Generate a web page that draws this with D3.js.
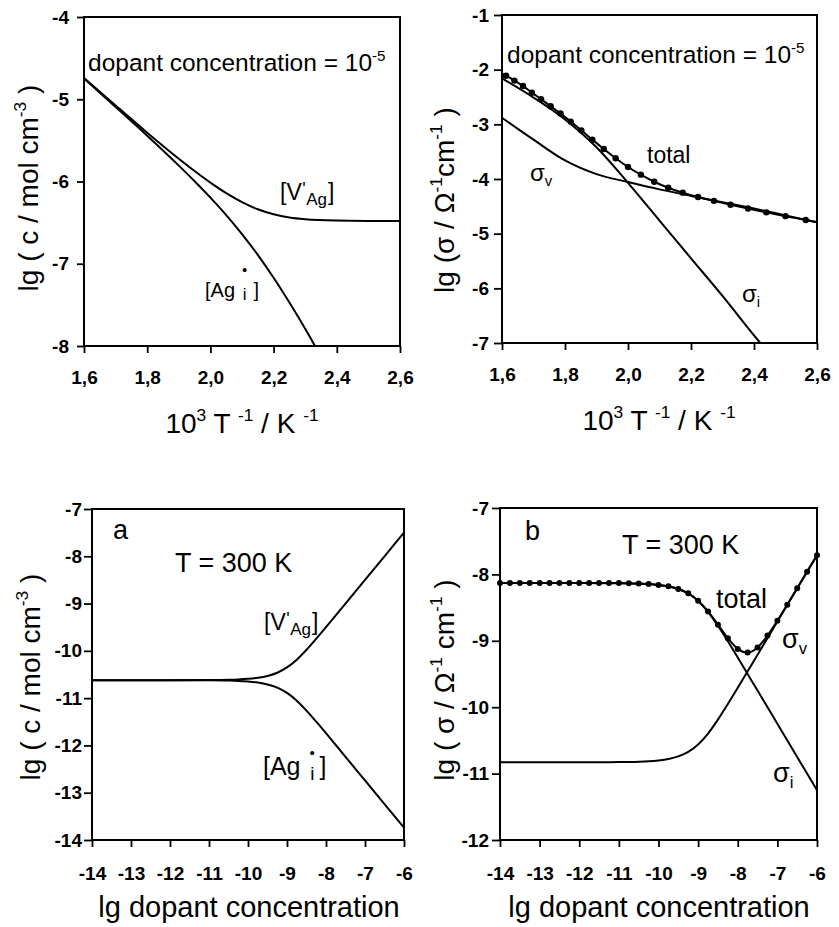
<!DOCTYPE html>
<html><head><meta charset="utf-8">
<script src="https://cdn.jsdelivr.net/npm/d3@7"></script>
<style>
body{margin:0;background:#fff}
svg{display:block}
text{font-family:"Liberation Sans",Arial,Helvetica,sans-serif;fill:#000}
</style>
</head><body>
<svg id="c" width="839" height="927"></svg>
<script>
// ---------- Panel 1 (top-left): concentrations vs 10^3/T ----------
const invT_V1 = [1.6,1.7,1.8,1.9,1.95,2.0,2.05,2.1,2.15,2.2,2.25,2.3,2.4,2.5,2.6];
const lgV_1   = [-4.741,-5.076,-5.406,-5.723,-5.873,-6.014,-6.142,-6.251,-6.338,-6.399,-6.438,-6.459,-6.475,-6.479,-6.480];
const invT_Ag1 = [1.6,1.7,1.8,1.9,1.95,2.0,2.05,2.1,2.15,2.2,2.25,2.3,2.331];
const lgAg_1   = [-4.749,-5.094,-5.444,-5.807,-5.997,-6.196,-6.408,-6.639,-6.892,-7.171,-7.472,-7.791,-8.0];

// ---------- Panel 2 (top-right): conductivities vs 10^3/T ----------
const invT_sv2 = [1.6,1.7,1.8,1.9,2.0,2.1,2.2,2.3,2.4,2.5,2.6];
const lgSigV_2 = [-2.88,-3.28,-3.66,-3.91,-4.055,-4.19,-4.31,-4.425,-4.54,-4.665,-4.79];
const invT_si2 = [1.6,1.7,1.8,1.9,2.0,2.1,2.2,2.3,2.4,2.42];
const lgSigI_2 = [-2.16,-2.51,-2.91,-3.42,-4.07,-4.76,-5.45,-6.14,-6.86,-7.0];
const T_dots2  = [620,610,600,590,580,570,560,550,540,530,520,510,500,490,480,470,460,450,440,430,420,410,400,390];
const lgTot_2  = [-2.11,-2.20,-2.30,-2.42,-2.54,-2.67,-2.80,-2.95,-3.11,-3.28,-3.45,-3.62,-3.78,-3.92,-4.05,-4.16,-4.25,-4.33,-4.40,-4.47,-4.54,-4.61,-4.68,-4.75];
const totEnds2 = [[1.6,-2.07],[2.6,-4.79]];

// ---------- Panel 3 (bottom-left, a): concentrations vs lg dopant ----------
const lgD = [-14,-13,-12,-11,-10.5,-10.25,-10,-9.75,-9.5,-9.25,-9,-8.75,-8.5,-8.25,-8,-7.75,-7.5,-7,-6.5,-6];
const lgV_3  = [-10.62,-10.62,-10.62,-10.617,-10.611,-10.604,-10.591,-10.569,-10.530,-10.463,-10.351,-10.187,-9.977,-9.742,-9.498,-9.249,-9.0,-8.5,-8.0,-7.5];
const lgAg_3 = [-10.62,-10.62,-10.62,-10.623,-10.629,-10.636,-10.649,-10.671,-10.710,-10.777,-10.889,-11.053,-11.263,-11.498,-11.742,-11.991,-12.24,-12.74,-13.24,-13.74];

// ---------- Panel 4 (bottom-right, b): conductivities vs lg dopant ----------
const lgSigV_4 = [-10.83,-10.83,-10.83,-10.827,-10.821,-10.814,-10.801,-10.779,-10.74,-10.673,-10.561,-10.397,-10.187,-9.952,-9.708,-9.459,-9.21,-8.71,-8.21,-7.71];
const lgSigI_4 = [-8.13,-8.13,-8.13,-8.133,-8.139,-8.146,-8.159,-8.181,-8.22,-8.287,-8.399,-8.563,-8.773,-9.008,-9.252,-9.501,-9.75,-10.25,-10.75,-11.25];
const lgD_dots4 = [-14,-13.75,-13.5,-13.25,-13,-12.75,-12.5,-12.25,-12,-11.75,-11.5,-11.25,-11,-10.75,-10.5,-10.25,-10,-9.75,-9.5,-9.25,-9,-8.75,-8.5,-8.25,-8,-7.75,-7.5,-7.25,-7,-6.75,-6.5,-6.25,-6];
const lgTot_4   = [-8.13,-8.13,-8.13,-8.13,-8.13,-8.13,-8.13,-8.13,-8.13,-8.13,-8.13,-8.13,-8.13,-8.134,-8.138,-8.145,-8.158,-8.18,-8.219,-8.285,-8.396,-8.557,-8.757,-8.961,-9.122,-9.178,-9.10,-8.922,-8.698,-8.456,-8.209,-7.96,-7.71];

// tick labels
const xTicksT = [1.6,1.8,2.0,2.2,2.4,2.6];
const xTickLabelsT = ["1,6","1,8","2,0","2,2","2,4","2,6"];
const xTicksD = [-14,-13,-12,-11,-10,-9,-8,-7,-6];
const yTicks1 = [-8,-7,-6,-5,-4];
const yTicks2 = [-7,-6,-5,-4,-3,-2,-1];
const yTicks3 = [-14,-13,-12,-11,-10,-9,-8,-7];
const yTicks4 = [-12,-11,-10,-9,-8,-7];

const svg = d3.select('#c');
const FONT = '"Liberation Sans",Arial,Helvetica,sans-serif';
const hy = v => String(v).replace('\u2212','-');

function rich(sel, parts, fs, supScale){
  const sc = supScale || 0.62;
  let cur = 0;
  parts.forEach(([t,k])=>{
    const target = k==='sup' ? -0.42*fs : (k==='sub' ? 0.22*fs : 0);
    sel.append('tspan').attr('dy', (target-cur).toFixed(2))
      .attr('font-size', k==='n'?fs:fs*sc).text(t);
    cur = target;
  });
  return sel;
}

function makePanel(c){
  const x = d3.scaleLinear().domain(c.xd).range(c.xr);
  const y = d3.scaleLinear().domain(c.yd).range(c.yr);
  const g = svg.append('g');
  const ax = g.append('g').attr('transform',`translate(0,${c.yr[0]})`)
    .call(d3.axisBottom(x).tickValues(c.xt).tickFormat((d,i)=>c.xl?c.xl[i]:hy(d))
      .tickSize(7).tickSizeOuter(0).tickPadding(c.xpad));
  const ay = g.append('g').attr('transform',`translate(${c.xr[0]},0)`)
    .call(d3.axisLeft(y).tickValues(c.yt).tickFormat(d=>hy(d))
      .tickSize(c.ytl||8).tickSizeOuter(0).tickPadding(c.ypad));
  [ax,ay].forEach(a=>{
    a.select('.domain').remove();
    a.attr('font-family',FONT).attr('font-size',19).attr('font-weight','bold');
    a.selectAll('.tick line').attr('stroke','#000').attr('stroke-width',1.8);
    a.selectAll('.tick text').attr('fill','#000');
  });
  g.append('rect').attr('x',c.xr[0]).attr('y',c.yr[1])
    .attr('width',c.xr[1]-c.xr[0]).attr('height',c.yr[0]-c.yr[1])
    .attr('fill','none').attr('stroke','#000').attr('stroke-width',2);
  return {x,y,g};
}

function curve(p, xs, ys){
  const line = d3.line().x(d=>p.x(d[0])).y(d=>p.y(d[1])).curve(d3.curveMonotoneX);
  p.g.append('path').datum(xs.map((v,i)=>[v,ys[i]]))
    .attr('d',line).attr('fill','none').attr('stroke','#000').attr('stroke-width',2);
}
function dots(p, xs, ys, r){
  p.g.selectAll(null).data(xs.map((v,i)=>[v,ys[i]])).enter().append('circle')
    .attr('cx',d=>p.x(d[0])).attr('cy',d=>p.y(d[1])).attr('r',r).attr('fill','#000');
}
function txt(x,y,fs,parts,anchor,rot){
  const t = svg.append('text').attr('font-size',fs).attr('text-anchor',anchor||'start');
  if(rot) t.attr('transform',`translate(${x},${y}) rotate(-90)`);
  else t.attr('x',x).attr('y',y);
  rich(t, typeof parts==='string'?[[parts,'n']]:parts, fs);
  return t;
}
// Kröger-Vink label as one text element: pre + raised mark + lowered subscript + "]"
function kv(o){
  const t = svg.append('text').attr('x',o.x).attr('y',o.y).attr('font-size',o.fs);
  t.append('tspan').text(o.pre);
  const m = t.append('tspan').attr('dx',o.markDx).attr('dy',o.markDy).attr('font-size',o.markFs).text(o.mark);
  const mw = m.node().getComputedTextLength();
  const back = o.pull ? -mw + o.subDx : o.subDx;
  t.append('tspan').attr('dx',back.toFixed(2)).attr('dy',o.subDy-o.markDy).attr('font-size',o.subFs).text(o.sub);
  t.append('tspan').attr('dx',o.gap2).attr('dy',-o.subDy).text(']');
}

// ---------- build panels ----------
const p1 = makePanel({xd:[1.6,2.6],xr:[84,400],yd:[-8,-4],yr:[346,17],xt:xTicksT,xl:xTickLabelsT,yt:yTicks1,xpad:18,ypad:8,ytl:7});
const p2 = makePanel({xd:[1.6,2.6],xr:[502,817],yd:[-7,-1],yr:[343,15],xt:xTicksT,xl:xTickLabelsT,yt:yTicks2,xpad:18,ypad:5,ytl:8});
const p3 = makePanel({xd:[-14,-6],xr:[92,404],yd:[-14,-7],yr:[840,509],xt:xTicksD,yt:yTicks3,xpad:20,ypad:2,ytl:8});
const p4 = makePanel({xd:[-14,-6],xr:[500,817],yd:[-12,-7],yr:[840,508],xt:xTicksD,yt:yTicks4,xpad:20,ypad:3,ytl:8});

curve(p1, invT_V1, lgV_1);
curve(p1, invT_Ag1, lgAg_1);

curve(p2, invT_sv2, lgSigV_2);
curve(p2, invT_si2, lgSigI_2);
const dotX2 = T_dots2.map(T=>1000/T);
curve(p2, [totEnds2[0][0], ...dotX2, totEnds2[1][0]], [totEnds2[0][1], ...lgTot_2, totEnds2[1][1]]);
dots(p2, dotX2, lgTot_2, 3.2);

curve(p3, lgD, lgV_3);
curve(p3, lgD, lgAg_3);

curve(p4, lgD, lgSigV_4);
curve(p4, lgD, lgSigI_4);
curve(p4, lgD_dots4, lgTot_4);
dots(p4, lgD_dots4, lgTot_4, 3);

// ---------- axis titles ----------
const xTitleT = [["10",'n'],["3",'sup'],[" T ",'n'],["-1",'sup'],[" / K ",'n'],["-1",'sup']];
txt(242,433,28,xTitleT,'middle');
txt(659,430,28,xTitleT,'middle');
txt(249,917,29,"lg dopant concentration",'middle');
txt(659,917,29,"lg dopant concentration",'middle');

txt(38,188,28,[["lg ( c / mol cm",'n'],["-3",'sup'],[" )",'n']],'middle',true);
txt(454,200,28,[["lg (σ / Ω",'n'],["-1",'sup'],["cm",'n'],["-1",'sup'],[" )",'n']],'middle',true);
txt(40,677,28,[["lg ( c / mol cm",'n'],["-3",'sup'],[" )",'n']],'middle',true);
txt(454,680,28,[["lg ( σ / Ω",'n'],["-1",'sup'],[" cm",'n'],["-1",'sup'],[" )",'n']],'middle',true);

// ---------- annotations ----------
const dopTxt = [["dopant concentration = 10",'n'],["-5",'sup']];
txt(88,71,24.5,dopTxt);
txt(507,63,24.5,dopTxt);

kv({x:280,y:200,fs:23,pre:"[V",mark:"'",markFs:18,markDx:0.5,markDy:-5,sub:"Ag",subFs:17,subDx:0.6,subDy:5,gap2:1,pull:false});
kv({x:205,y:297,fs:20,pre:"[Ag",mark:"•",markFs:15,markDx:7,markDy:-22,sub:"i",subFs:17,subDx:0.8,subDy:3,gap2:7,pull:true});

txt(647,163,23,"total");
txt(530,181,24,[["σ",'n'],["v",'sub']]);
txt(742,302,24,[["σ",'n'],["i",'sub']]);

txt(113,539,27,"a");
txt(175,572,27,"T = 300 K");
kv({x:264,y:630,fs:23,pre:"[V",mark:"'",markFs:18,markDx:0.5,markDy:-5,sub:"Ag",subFs:17,subDx:0.6,subDy:5,gap2:1,pull:false});
kv({x:263,y:775,fs:25,pre:"[Ag",mark:"•",markFs:15,markDx:9,markDy:-17,sub:"i",subFs:19,subDx:0.8,subDy:5,gap2:5,pull:true});

txt(525,540,27,"b");
txt(622,554,27,"T = 300 K");
txt(716,608,27,"total");
txt(782,648,27,[["σ",'n'],["v",'sub']]);
txt(773,782,27,[["σ",'n'],["i",'sub']]);
</script>
</body></html>
